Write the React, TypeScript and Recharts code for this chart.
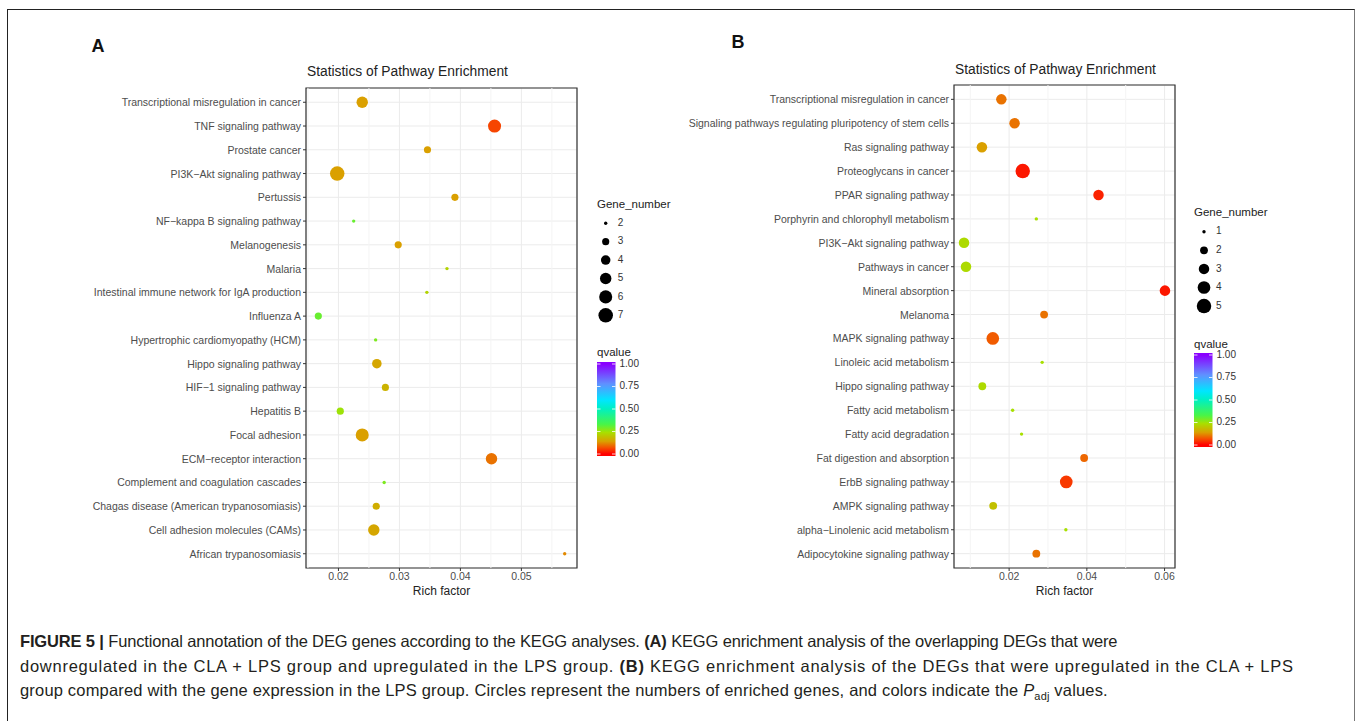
import React from "react";
import {
  ScatterChart,
  Scatter,
  XAxis,
  YAxis,
  ZAxis,
  CartesianGrid,
  ReferenceLine,
  ReferenceArea,
  Cell
} from "recharts";

// Panel A: overlapping DEGs (down in CLA + LPS, up in LPS)
const pathwaysA = [
  "Transcriptional misregulation in cancer",
  "TNF signaling pathway",
  "Prostate cancer",
  "PI3K−Akt signaling pathway",
  "Pertussis",
  "NF−kappa B signaling pathway",
  "Melanogenesis",
  "Malaria",
  "Intestinal immune network for IgA production",
  "Influenza A",
  "Hypertrophic cardiomyopathy (HCM)",
  "Hippo signaling pathway",
  "HIF−1 signaling pathway",
  "Hepatitis B",
  "Focal adhesion",
  "ECM−receptor interaction",
  "Complement and coagulation cascades",
  "Chagas disease (American trypanosomiasis)",
  "Cell adhesion molecules (CAMs)",
  "African trypanosomiasis"
];
const richA = [0.0239, 0.0456, 0.0346, 0.0198, 0.0391, 0.0225, 0.0298, 0.0378, 0.0345, 0.0167, 0.0261, 0.0263, 0.0277, 0.0203, 0.0239, 0.0451, 0.0275, 0.0262, 0.0258, 0.0571];
const genesA = [5, 6, 3, 7, 3, 2, 3, 2, 2, 3, 2, 4, 3, 3, 6, 5, 2, 3, 5, 2];
const qvalA = [0.14, 0.06, 0.14, 0.14, 0.14, 0.3, 0.14, 0.22, 0.22, 0.3, 0.28, 0.15, 0.17, 0.25, 0.14, 0.1, 0.28, 0.16, 0.15, 0.12];
const ticksA = [0.02, 0.03, 0.04, 0.05];
const minorA = [0.015, 0.025, 0.035, 0.045, 0.055];
const sizeLevelsA = [2, 3, 4, 5, 6, 7];

// Panel B: DEGs up in CLA + LPS vs LPS
const pathwaysB = [
  "Transcriptional misregulation in cancer",
  "Signaling pathways regulating pluripotency of stem cells",
  "Ras signaling pathway",
  "Proteoglycans in cancer",
  "PPAR signaling pathway",
  "Porphyrin and chlorophyll metabolism",
  "PI3K−Akt signaling pathway",
  "Pathways in cancer",
  "Mineral absorption",
  "Melanoma",
  "MAPK signaling pathway",
  "Linoleic acid metabolism",
  "Hippo signaling pathway",
  "Fatty acid metabolism",
  "Fatty acid degradation",
  "Fat digestion and absorption",
  "ErbB signaling pathway",
  "AMPK signaling pathway",
  "alpha−Linolenic acid metabolism",
  "Adipocytokine signaling pathway"
];
const richB = [0.018, 0.0214, 0.013, 0.0235, 0.043, 0.027, 0.0084, 0.0089, 0.0601, 0.029, 0.0158, 0.0285, 0.0131, 0.0209, 0.0232, 0.0393, 0.0347, 0.0159, 0.0346, 0.027];
const genesB = [3, 3, 3, 5, 3, 1, 3, 3, 3, 2, 4, 1, 2, 1, 1, 2, 4, 2, 1, 2];
const qvalB = [0.1, 0.1, 0.14, 0.02, 0.03, 0.24, 0.23, 0.23, 0.02, 0.1, 0.08, 0.24, 0.23, 0.24, 0.24, 0.09, 0.05, 0.19, 0.24, 0.1];
const ticksB = [0.02, 0.04, 0.06];
const minorB = [0.01, 0.03, 0.05];
const sizeLevelsB = [1, 2, 3, 4, 5];

const qTicks = [1, 0.75, 0.5, 0.25, 0];

// qvalue colour scale (red -> gold -> green -> cyan -> blue -> purple)
const qStops = [0, 0.07, 0.14, 0.24, 0.33, 0.5, 0.6, 0.78, 1];
const qColours = ["#FF0000", "#F55000", "#DAA000", "#A8E000", "#48F548", "#00F0C0", "#00E6FF", "#6090FF", "#8A00FF"];

const hexToRgb = (h: string) => [1, 3, 5].map((i) => parseInt(h.slice(i, i + 2), 16));

const qColor = (q: number) => {
  let i = 0;
  while (i < qStops.length - 2 && q > qStops[i + 1]) i++;
  const t = Math.min(1, Math.max(0, (q - qStops[i]) / (qStops[i + 1] - qStops[i])));
  const a = hexToRgb(qColours[i]);
  const b = hexToRgb(qColours[i + 1]);
  const c = a.map((v, k) => Math.round(v + (b[k] - v) * t));
  return `rgb(${c[0]},${c[1]},${c[2]})`;
};

const AREA_RANGE: [number, number] = [9, 165];
const dotRadius = (g: number, levels: number[]) => {
  const lo = levels[0];
  const hi = levels[levels.length - 1];
  const area = AREA_RANGE[0] + ((g - lo) / (hi - lo)) * (AREA_RANGE[1] - AREA_RANGE[0]);
  return Math.sqrt(area / Math.PI);
};

const FONT = "'Liberation Sans', Arial, Helvetica, sans-serif";
const TICK = { fontSize: 10.5, fill: "#4D4D4D", fontFamily: FONT };

// plain tick text, no word wrapping
const NameTick = (names: string[]) => (props: any) => {
  const { x, y, payload } = props;
  return (
    <text x={x} y={y} textAnchor="end" dominantBaseline="central" {...TICK}>
      {names[payload.value - 1] ?? ""}
    </text>
  );
};

function Panel({
  names,
  rich,
  genes,
  qval,
  ticks,
  minor,
  levels,
  left,
  width,
  yAxisWidth,
  top,
  right
}: {
  names: string[];
  rich: number[];
  genes: number[];
  qval: number[];
  ticks: number[];
  minor: number[];
  levels: number[];
  left: number;
  width: number;
  yAxisWidth: number;
  top: number;
  right: number;
}) {
  const n = names.length;
  const data = names.map((name, i) => ({ name, y: i + 1, rf: rich[i], genes: genes[i], q: qval[i] }));
  const lo = Math.min(...rich);
  const hi = Math.max(...rich);
  const pad = (hi - lo) * 0.05;
  const xDomain: [number, number] = [lo - pad, hi + pad];
  const yDomain: [number, number] = [0.4, n + 0.6];
  const yTicks = data.map((d) => d.y);
  const height = 612;

  return (
    <div style={{ position: "absolute", left, top: 0, width, height }}>
      <ScatterChart
        width={width}
        height={height}
        margin={{ top, right, left: 0, bottom: 2 }}
      >
        <CartesianGrid stroke="#EBEBEB" strokeWidth={1} />
        {minor.map((m) => (
          <ReferenceLine key={m} x={m} stroke="#F4F4F4" strokeWidth={1} ifOverflow="hidden" />
        ))}
        <XAxis
          type="number"
          dataKey="rf"
          domain={xDomain}
          ticks={ticks}
          allowDataOverflow
          tickFormatter={(v: number) => v.toFixed(2)}
          height={42}
          tickSize={3}
          tickMargin={2}
          axisLine={false}
          tickLine={{ stroke: "#333333" }}
          tick={TICK}
          label={{ value: "Rich factor", position: "insideBottom", offset: 15, fill: "#222", fontSize: 12, fontFamily: FONT }}
        />
        <YAxis
          type="number"
          dataKey="y"
          domain={yDomain}
          ticks={yTicks}
          interval={0}
          reversed
          allowDataOverflow
          width={yAxisWidth}
          tickSize={3}
          tickMargin={2}
          axisLine={false}
          tickLine={{ stroke: "#333333" }}
          tick={NameTick(names)}
        />
        <ZAxis type="number" dataKey="genes" domain={[levels[0], levels[levels.length - 1]]} range={AREA_RANGE} />
        <Scatter data={data} isAnimationActive={false}>
          {data.map((d) => (
            <Cell key={d.name} fill={qColor(d.q)} />
          ))}
        </Scatter>
        <ReferenceArea
          x1={xDomain[0]}
          x2={xDomain[1]}
          y1={yDomain[0]}
          y2={yDomain[1]}
          fill="none"
          fillOpacity={0}
          stroke="#333333"
          strokeWidth={1.2}
          ifOverflow="visible"
        />
      </ScatterChart>
    </div>
  );
}

function Legend({
  x,
  yTitle,
  dotX,
  dotY0,
  dotStep,
  levels,
  qTitleY,
  barTop,
  barBottom,
  gradId
}: {
  x: number;
  yTitle: number;
  dotX: number;
  dotY0: number;
  dotStep: number;
  levels: number[];
  qTitleY: number;
  barTop: number;
  barBottom: number;
  gradId: string;
}) {
  const barW = 18.5;
  const v0 = barBottom - 2;
  const v1 = barTop + 2;
  return (
    <g fontFamily={FONT}>
      <text x={x} y={yTitle} fontSize={11.5} fill="#222" dominantBaseline="middle">
        Gene_number
      </text>
      {levels.map((g, i) => (
        <g key={g}>
          <circle cx={dotX} cy={dotY0 + i * dotStep} r={dotRadius(g, levels)} fill="#000" />
          <text x={dotX + 12} y={dotY0 + i * dotStep} fontSize={10} fill="#333" dominantBaseline="middle">
            {g}
          </text>
        </g>
      ))}
      <text x={x} y={qTitleY} fontSize={11.5} fill="#222" dominantBaseline="middle">
        qvalue
      </text>
      <defs>
        <linearGradient id={gradId} x1="0" y1={v0} x2="0" y2={v1} gradientUnits="userSpaceOnUse">
          {qStops.map((s, i) => (
            <stop key={s} offset={s} stopColor={qColours[i]} />
          ))}
        </linearGradient>
      </defs>
      <rect x={x} y={barTop} width={barW} height={barBottom - barTop} fill={`url(#${gradId})`} />
      {qTicks.map((t) => {
        const ty = v0 + (v1 - v0) * t;
        return (
          <g key={t}>
            <line x1={x} x2={x + 3.5} y1={ty} y2={ty} stroke="#fff" strokeWidth={0.8} />
            <line x1={x + barW - 3.5} x2={x + barW} y1={ty} y2={ty} stroke="#fff" strokeWidth={0.8} />
            <text x={x + barW + 4} y={ty} fontSize={10} fill="#333" dominantBaseline="middle">
              {t.toFixed(2)}
            </text>
          </g>
        );
      })}
    </g>
  );
}

export default function App() {
  return (
    <div
      style={{
        position: "absolute",
        left: 0,
        top: 0,
        width: 1357,
        height: 721,
        background: "#fff",
        overflow: "hidden",
        fontFamily: FONT
      }}
    >
      <div
        style={{
          position: "absolute",
          left: 7,
          top: 9,
          width: 1346,
          height: 740,
          borderLeft: "1.5px solid #222",
          borderTop: "1.5px solid #222",
          borderRight: "1.5px solid #777"
        }}
      />
      <Panel
        names={pathwaysA}
        rich={richA}
        genes={genesA}
        qval={qvalA}
        ticks={ticksA}
        minor={minorA}
        levels={sizeLevelsA}
        left={0}
        width={700}
        yAxisWidth={306}
        top={88}
        right={123}
      />
      <Panel
        names={pathwaysB}
        rich={richB}
        genes={genesB}
        qval={qvalB}
        ticks={ticksB}
        minor={minorB}
        levels={sizeLevelsB}
        left={680}
        width={677}
        yAxisWidth={274}
        top={85}
        right={182}
      />
      <svg
        width={1357}
        height={721}
        style={{ position: "absolute", left: 0, top: 0, pointerEvents: "none" }}
      >
        <text x={98} y={47} fontSize={18} fontWeight="bold" fill="#111" textAnchor="middle" dominantBaseline="middle" fontFamily={FONT}>
          A
        </text>
        <text x={738} y={43} fontSize={18} fontWeight="bold" fill="#111" textAnchor="middle" dominantBaseline="middle" fontFamily={FONT}>
          B
        </text>
        <text x={307} y={72} fontSize={13.8} fill="#222" dominantBaseline="middle" fontFamily={FONT}>
          Statistics of Pathway Enrichment
        </text>
        <text x={955} y={70} fontSize={13.8} fill="#222" dominantBaseline="middle" fontFamily={FONT}>
          Statistics of Pathway Enrichment
        </text>
        <Legend
          x={597}
          yTitle={205}
          dotX={605.7}
          dotY0={223.3}
          dotStep={18.4}
          levels={sizeLevelsA}
          qTitleY={353}
          barTop={362}
          barBottom={456}
          gradId="gradA"
        />
        <Legend
          x={1194}
          yTitle={213}
          dotX={1204}
          dotY0={231.7}
          dotStep={18.6}
          levels={sizeLevelsB}
          qTitleY={345}
          barTop={353}
          barBottom={447}
          gradId="gradB"
        />
      </svg>
      <div
        style={{
          position: "absolute",
          left: 20,
          top: 629,
          fontSize: 16.5,
          lineHeight: "24.5px",
          color: "#231F20",
          whiteSpace: "nowrap"
        }}
      >
        <div style={{ letterSpacing: "-0.15px" }}>
          <b>FIGURE 5 |</b> Functional annotation of the DEG genes according to the KEGG analyses. <b>(A)</b> KEGG enrichment analysis of the overlapping DEGs that were
        </div>
        <div style={{ letterSpacing: "0.75px" }}>
          downregulated in the CLA + LPS group and upregulated in the LPS group. <b>(B)</b> KEGG enrichment analysis of the DEGs that were upregulated in the CLA + LPS
        </div>
        <div style={{ letterSpacing: "0.18px" }}>
          group compared with the gene expression in the LPS group. Circles represent the numbers of enriched genes, and colors indicate the{" "}
          <i>P</i>
          <sub style={{ fontSize: 11, lineHeight: 0 }}>adj</sub> values.
        </div>
      </div>
    </div>
  );
}
